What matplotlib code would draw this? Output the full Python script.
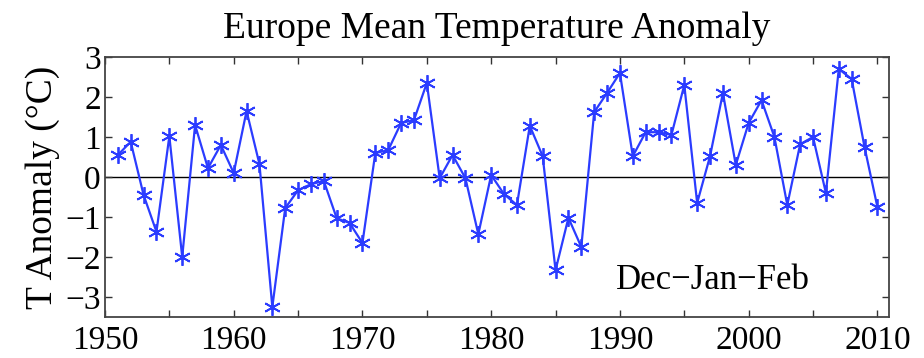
import matplotlib
matplotlib.use("Agg")
import matplotlib.pyplot as plt
import numpy as np
from matplotlib.ticker import MultipleLocator

plt.rcParams['font.family'] = ['Liberation Serif', 'DejaVu Serif']
plt.rcParams['axes.unicode_minus'] = True

# data: Dec-Jan-Feb temperature anomaly (deg C), 1951-2010
years = np.arange(1951, 2011)
anomaly = [0.55, 0.88, -0.45, -1.37, 1.02, -2.0, 1.3, 0.22, 0.8, 0.1,
           1.65, 0.32, -3.25, -0.78, -0.33, -0.18, -0.1, -1.03, -1.15, -1.65,
           0.6, 0.67, 1.35, 1.42, 2.35, -0.03, 0.55, -0.03, -1.43, 0.05,
           -0.43, -0.7, 1.28, 0.52, -2.33, -1.02, -1.75, 1.62, 2.1, 2.6,
           0.52, 1.12, 1.12, 1.05, 2.3, -0.65, 0.52, 2.1, 0.3, 1.35,
           1.92, 1.0, -0.7, 0.82, 1.0, -0.4, 2.7, 2.45, 0.75, -0.75]

fig = plt.figure(figsize=(9.24, 3.58), dpi=100)
ax = fig.add_axes([0.1136, 0.1145, 0.8485, 0.7263])

ax.axhline(0, color='black', lw=1.0, zorder=1)
ax.plot(years, anomaly, color='#2b3cff', lw=1.6, marker=(6, 2, 0),
        markersize=12, markeredgewidth=1.3, zorder=2)

ax.set_xlim(1950, 2010.9)
ax.set_ylim(-3.5, 3)
ax.xaxis.set_major_locator(MultipleLocator(10))
ax.xaxis.set_minor_locator(MultipleLocator(5))
ax.yaxis.set_major_locator(MultipleLocator(1))
ax.tick_params(which='both', direction='in', top=True, right=True,
               length=5, width=1, color='#333333', labelsize=24, pad=3)
ax.tick_params(axis='x', pad=6)
ax.tick_params(axis='y', labelright=False)
for s in ax.spines.values():
    s.set_color('#444444')
    s.set_linewidth(1.3)

ax.set_title("Europe Mean Temperature Anomaly", fontsize=27, pad=14)
ax.set_ylabel("T Anomaly (°C)", fontsize=27, labelpad=4)
ax.text(1997.2, -2.58, "Dec\u2212Jan\u2212Feb", fontsize=25, ha='center', va='center')

fig.savefig("out.png", dpi=100)
